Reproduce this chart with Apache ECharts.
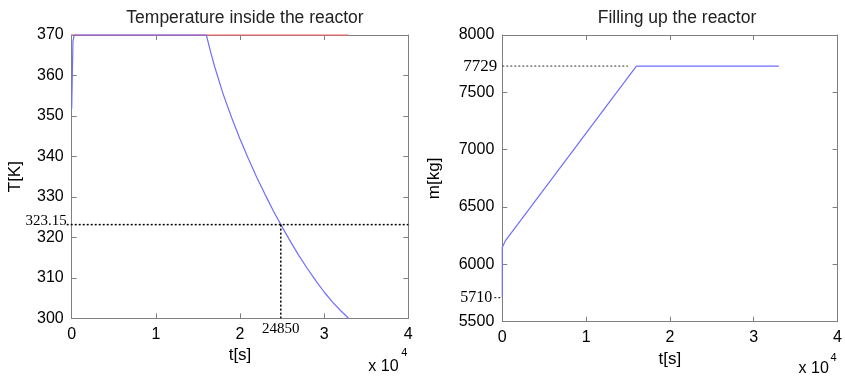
<!DOCTYPE html>
<html>
<head>
<meta charset="utf-8">
<script src="https://cdn.jsdelivr.net/npm/echarts@6/dist/echarts.min.js"></script>
<style>
html,body{margin:0;padding:0;background:#fff;}
#c{width:845px;height:381px;}
</style>
</head>
<body>
<div id="c"></div>
<script>
// ---- data ----
const titles = ['Temperature inside the reactor', 'Filling up the reactor'];
// Temperature inside the reactor
const tTemp = [0, 150, 300, 16000, 16500, 17000, 18000, 19000, 20000, 21000, 22000, 23000, 24000, 24850, 26000, 27000, 28000, 29000, 30000, 31000, 32000, 32900];
const TTemp = [351.8, 368.5, 370, 370, 365.9, 362.1, 355.4, 349.6, 344.3, 339.4, 334.8, 330.5, 326.4, 323.15, 318.95, 315.5, 312.3, 309.3, 306.5, 304.0, 301.8, 300];
const tSet = [0, 32900];
const TSet = [370, 370];
// Filling up the reactor
const tMass = [0, 0, 400, 16000, 33000];
const mMass = [5710, 6150, 6210, 7729, 7729];
// annotations
const refTemp = 323.15;
const refTime = 24850;
const massFinal = 7729;
const massStart = 5710;
const massDotEnd = 15000;
// axes
const tMin = 0, tMax = 40000, tStep = 10000, tScale = 10000;
const TMin = 300, TMax = 370, TStep = 10;
const mMin = 5500, mMax = 8000, mStep = 500;

const zip = (a, b) => a.map((v, i) => [v, b[i]]);

const SANS = "'Liberation Sans', Arial, sans-serif";
const SERIF = "'Liberation Serif', 'Times New Roman', serif";
const AX = '#808080';

function xAx(grid, pos, withLabel) {
  return {
    type: 'value', gridIndex: grid, position: pos, min: tMin, max: tMax, interval: tStep,
    axisLine: { show: true, onZero: false, lineStyle: { color: AX, width: 1 } },
    axisTick: { show: true, inside: true, length: 5, lineStyle: { color: AX } },
    splitLine: { show: false },
    axisLabel: withLabel ? { show: true, margin: 8, fontSize: 16, color: '#000', fontFamily: SANS,
      formatter: v => String(v / tScale) } : { show: false },
    name: withLabel ? 't[s]' : '', nameLocation: 'middle', nameGap: 29,
    nameTextStyle: { fontSize: 17, color: '#000', fontFamily: SANS }
  };
}
function yAx(grid, pos, mn, mx, step, name, withLabel) {
  return {
    type: 'value', gridIndex: grid, position: pos, min: mn, max: mx, interval: step,
    axisLine: { show: true, onZero: false, lineStyle: { color: AX, width: 1 } },
    axisTick: { show: true, inside: true, length: 5, lineStyle: { color: AX } },
    splitLine: { show: false },
    axisLabel: withLabel ? { show: true, margin: 8, fontSize: 16, color: '#000', fontFamily: SANS,
      formatter: v => String(v) } : { show: false },
    name: withLabel ? name : '', nameLocation: 'middle', nameGap: 48, nameRotate: 90,
    nameTextStyle: { fontSize: 17, color: '#000', fontFamily: SANS }
  };
}

const xA0 = xAx(0, 'bottom', true);
const xA2 = xAx(1, 'bottom', true); xA2.nameGap = 28;
const yA2 = yAx(1, 'left', mMin, mMax, mStep, 'm[kg]', true); yA2.nameGap = 59;

const option = {
  animation: false,
  backgroundColor: '#fff',
  title: [
    { text: titles[0], left: 240, textAlign: 'center', top: 4,
      textStyle: { fontSize: 17.5, fontWeight: 'normal', color: '#222', fontFamily: SANS } },
    { text: titles[1], left: 672, textAlign: 'center', top: 4,
      textStyle: { fontSize: 17.5, fontWeight: 'normal', color: '#222', fontFamily: SANS } }
  ],
  grid: [
    { left: 71.7, right: 436.7, top: 35, bottom: 62.7, containLabel: false },
    { left: 502.3, right: 4.5, top: 35, bottom: 59.3, containLabel: false }
  ],
  xAxis: [xA0, xAx(0, 'top', false), xA2, xAx(1, 'top', false)],
  yAxis: [
    yAx(0, 'left', TMin, TMax, TStep, 'T[K]', true),
    yAx(0, 'right', TMin, TMax, TStep, '', false),
    yA2,
    yAx(1, 'right', mMin, mMax, mStep, '', false)
  ],
  series: [
    { type: 'line', xAxisIndex: 0, yAxisIndex: 0, data: zip(tSet, TSet), symbol: 'none', clip: false,
      lineStyle: { color: '#ff5c5c', width: 1.2 }, z: 3 },
    { type: 'line', xAxisIndex: 0, yAxisIndex: 0, data: zip(tTemp, TTemp), symbol: 'none', clip: false,
      lineStyle: { color: '#6f6fff', width: 1.2 }, z: 4 },
    { type: 'line', xAxisIndex: 2, yAxisIndex: 2, data: zip(tMass, mMass), symbol: 'none', clip: false,
      lineStyle: { color: '#6f6fff', width: 1.2 }, z: 4 }
  ]
};

const chart = echarts.init(document.getElementById('c'), null, { renderer: 'canvas' });
chart.setOption(option);

const pL = (x, y) => chart.convertToPixel({ seriesIndex: 1 }, [x, y]);
const pR = (x, y) => chart.convertToPixel({ seriesIndex: 2 }, [x, y]);
const dot = (x1, y1, x2, y2, w, c) => ({ type: 'line', z: 50, silent: true,
  shape: { x1, y1, x2, y2 }, style: { stroke: c || '#000', lineWidth: w || 1.5, lineDash: [2, 2] } });
const txt = (x, y, s, align, size, fam, vAlign) => ({ type: 'text', z: 50, silent: true, x, y,
  style: { text: s, fill: '#000', fontSize: size, fontFamily: fam, align: align, verticalAlign: vAlign || 'middle' } });

const a = pL(tMin, refTemp), b = pL(tMax, refTemp);
const c1 = pL(refTime, refTemp), c2 = pL(refTime, TMin);
const m1 = pR(tMin, massFinal), m2 = pR(massDotEnd, massFinal);
const s1 = pR(tMin, massStart);
const xl = pL(tMax, TMin), xr = pR(tMax, mMin);

chart.setOption({
  graphic: [
    dot(a[0] - 5, a[1], b[0], b[1], 1.5),
    dot(c1[0], c1[1], c2[0], c2[1], 1.5),
    txt(a[0] - 5, a[1] - 4, String(refTemp), 'right', 15, SERIF),
    txt(c2[0], c2[1] + 11, String(refTime), 'center', 15, SERIF),
    dot(m1[0], m1[1], m2[0], m2[1], 1, '#333'),
    txt(m1[0] - 5, m1[1], String(massFinal), 'right', 17, SERIF),
    dot(s1[0] - 8, s1[1], s1[0], s1[1], 1.2, '#333'),
    txt(s1[0] - 10, s1[1], String(massStart), 'right', 16, SERIF),
    txt(xl[0] - 40, xl[1] + 48, 'x 10', 'left', 16, SANS),
    txt(xl[0] - 7, xl[1] + 35, '4', 'left', 11, SANS),
    txt(xr[0] - 39, xr[1] + 47, 'x 10', 'left', 16, SANS),
    txt(xr[0] - 7, xr[1] + 36, '4', 'left', 11, SANS)
  ]
});
</script>
</body>
</html>
